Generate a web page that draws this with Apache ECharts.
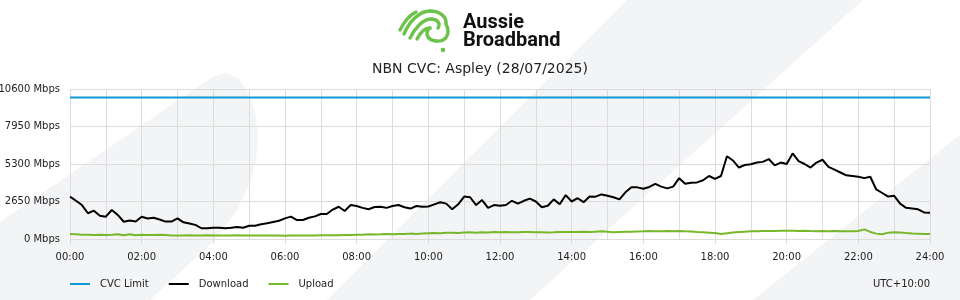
<!DOCTYPE html>
<html>
<head>
<meta charset="utf-8">
<script src="https://cdn.jsdelivr.net/npm/echarts@6/dist/echarts.min.js"></script>
<style>
html,body{margin:0;padding:0;background:#fff;}
#chart{width:960px;height:300px;}
</style>
</head>
<body>
<div id="chart"></div>
<script>
// ---- data (minutes since 00:00, 10-minute samples) ----
const seriesNames = ['CVC Limit', 'Download', 'Upload'];
const xTickLabels = ['00:00','02:00','04:00','06:00','08:00','10:00','12:00','14:00','16:00','18:00','20:00','22:00','24:00'];
const yTickValues = [0, 2650, 5300, 7950, 10600];
const cvcLimit = 10000;
const download = [
  2990, 2700, 2400, 1820, 2000, 1650, 1580, 2050, 1700, 1220, 1300, 1240, 1570,
  1450, 1500, 1380, 1230, 1230, 1460, 1180, 1100, 1000, 760, 760, 800,
  800, 760, 800, 850, 800, 940, 940, 1040, 1110, 1200, 1290, 1460,
  1580, 1340, 1340, 1500, 1600, 1770, 1770, 2080, 2280, 1980, 2400, 2330,
  2200, 2100, 2260, 2280, 2200, 2330, 2400, 2240, 2150, 2330, 2280, 2300,
  2450, 2600, 2500, 2100, 2450, 3000, 2950, 2400, 2750, 2200, 2400, 2350,
  2400, 2700, 2500, 2700, 2850, 2650, 2250, 2350, 2800, 2450, 3100, 2650,
  2880, 2600, 3000, 2990, 3150, 3050, 2950, 2800, 3300, 3650, 3650, 3550,
  3680, 3900, 3700, 3580, 3700, 4300, 3900, 3980, 4000, 4150, 4450, 4250,
  4450, 5850, 5550, 5050, 5230, 5280, 5400, 5450, 5650, 5200, 5400, 5300,
  6050, 5500, 5300, 5050, 5400, 5600, 5100, 4900, 4700, 4500, 4450, 4400,
  4300, 4400, 3500, 3250, 3000, 3050, 2500, 2200, 2150, 2100, 1880, 1860
];
const upload = [
  350, 330, 300, 300, 280, 300, 280, 300, 330, 260, 330, 270, 300,
  290, 280, 300, 280, 240, 240, 250, 260, 250, 250, 260, 250,
  250, 250, 250, 260, 250, 250, 240, 250, 240, 250, 250, 230,
  240, 240, 250, 250, 240, 260, 260, 270, 260, 280, 290, 300,
  300, 330, 320, 330, 350, 340, 360, 350, 380, 360, 380, 400,
  420, 410, 440, 450, 420, 460, 470, 450, 480, 460, 490, 480,
  490, 480, 470, 500, 490, 470, 480, 460, 470, 490, 500, 490,
  500, 520, 490, 520, 540, 520, 480, 500, 510, 520, 530, 540,
  560, 550, 540, 560, 550, 560, 540, 530, 500, 480, 450, 420,
  360, 400, 460, 500, 520, 540, 550, 560, 560, 570, 580, 580,
  590, 570, 580, 560, 550, 560, 550, 560, 540, 550, 540, 560,
  680, 500, 380, 330, 450, 470, 460, 420, 390, 370, 350, 350
];
const stepMinutes = 10;
// --------------------------------------------------------

const times = download.map((_, i) => i * stepMinutes);
const pairs = arr => arr.map((v, i) => [times[i], v]);
const cvcData = times.map(t => [t, cvcLimit]);

const FONT = 'DejaVu Sans';
const GRID = '#dcdcdc';
const WM = '#f3f4f6';
const LOGO = '#6cc24a';

function curve(x1, y1, c1x, c1y, c2x, c2y, x2, y2) {
  return { type: 'bezierCurve', silent: true,
    shape: { x1: x1, y1: y1, cpx1: c1x, cpy1: c1y, cpx2: c2x, cpy2: c2y, x2: x2, y2: y2 },
    style: { stroke: LOGO, lineWidth: 3.4, fill: null, lineCap: 'round' } };
}

const chart = echarts.init(document.getElementById('chart'), null, {renderer: 'canvas'});
chart.setOption({
  animation: false,
  backgroundColor: '#ffffff',
  graphic: [
    // background watermark shapes
    { type: 'polygon', z: -10, silent: true,
      shape: { points: [[0,222],[205,82],[215,76],[226,73],[238,78],[248,92],[255,112],[258,135],[256,160],[250,183],[237,210],[215,240],[150,300],[0,300]] },
      style: { fill: WM } },
    { type: 'polygon', z: -10, silent: true,
      shape: { points: [[627, 0], [327, 300], [530, 300], [863, 0]] },
      style: { fill: WM } },
    { type: 'polygon', z: -10, silent: true,
      shape: { points: [[753, 300], [960, 135], [960, 300]] },
      style: { fill: WM } },
    // logo icon
    curve(404, 34, 409, 22, 419, 11, 430, 11),
    curve(430, 11, 440, 11, 447, 17, 446, 24),
    curve(410, 38, 415, 28, 423, 19, 431, 19),
    curve(431, 19, 437, 19, 441, 23, 438, 28),
    curve(417, 39, 420, 33, 425, 28, 430, 28),
    curve(430, 28, 425, 32, 426, 40, 436, 41),
    curve(436, 41, 446, 42, 451, 34, 446, 24),
    curve(400, 30, 404, 22, 410, 15, 416, 12),
    { type: 'circle', silent: true, shape: { cx: 443, cy: 50, r: 2.3 }, style: { fill: LOGO } },
    { type: 'text', left: 463, top: 13, silent: true,
      style: { text: 'Aussie', font: 'bold 20px Roboto', fill: '#111' } },
    { type: 'text', left: 463, top: 31, silent: true,
      style: { text: 'Broadband', font: 'bold 20px Roboto', fill: '#111' } },
    { type: 'text', right: 30, top: 279, silent: true,
      style: { text: 'UTC+10:00', font: '10px "DejaVu Sans"', fill: '#222' } }
  ],
  title: {
    text: 'NBN CVC: Aspley (28/07/2025)',
    left: 'center', top: 62, padding: 0,
    textStyle: { fontFamily: FONT, fontSize: 14, fontWeight: 'normal', color: '#222' }
  },
  legend: {
    data: seriesNames,
    left: 70, top: 279, padding: 0,
    icon: 'rect', itemWidth: 20, itemHeight: 2, itemGap: 20,
    textStyle: { fontFamily: FONT, fontSize: 10, color: '#222', padding: [0, 0, 0, 5] }
  },
  grid: { left: 70, right: 30, top: 89, bottom: 61, containLabel: false, outerBoundsMode: 'none' },
  xAxis: {
    type: 'value', min: 0, max: 1440, interval: 120,
    axisLine: { show: false },
    axisTick: { show: true, length: 5, lineStyle: { color: GRID } },
    axisLabel: {
      fontFamily: FONT, fontSize: 10, color: '#222', margin: 13,
      formatter: v => xTickLabels[v / 120]
    },
    splitLine: { show: true, lineStyle: { color: GRID, width: 1 } },
    minorTick: { show: false, splitNumber: 2 },
    minorSplitLine: { show: true, lineStyle: { color: GRID, width: 1 } }
  },
  yAxis: {
    type: 'value', min: 0, max: 10600, interval: 2650,
    axisLine: { show: false }, axisTick: { show: false },
    axisLabel: {
      fontFamily: FONT, fontSize: 10, color: '#222', margin: 10,
      formatter: v => yTickValues.includes(v) ? v + ' Mbps' : ''
    },
    splitLine: { show: true, lineStyle: { color: GRID, width: 1 } }
  },
  series: [
    { name: seriesNames[0], type: 'line', data: cvcData, showSymbol: false,
      lineStyle: { color: '#1097d5', width: 2 }, itemStyle: { color: '#1097d5' } },
    { name: seriesNames[1], type: 'line', data: pairs(download), showSymbol: false,
      lineStyle: { color: '#000000', width: 2 }, itemStyle: { color: '#000000' } },
    { name: seriesNames[2], type: 'line', data: pairs(upload), showSymbol: false,
      lineStyle: { color: '#77b82a', width: 2 }, itemStyle: { color: '#77b82a' } }
  ]
});
</script>
</body>
</html>
